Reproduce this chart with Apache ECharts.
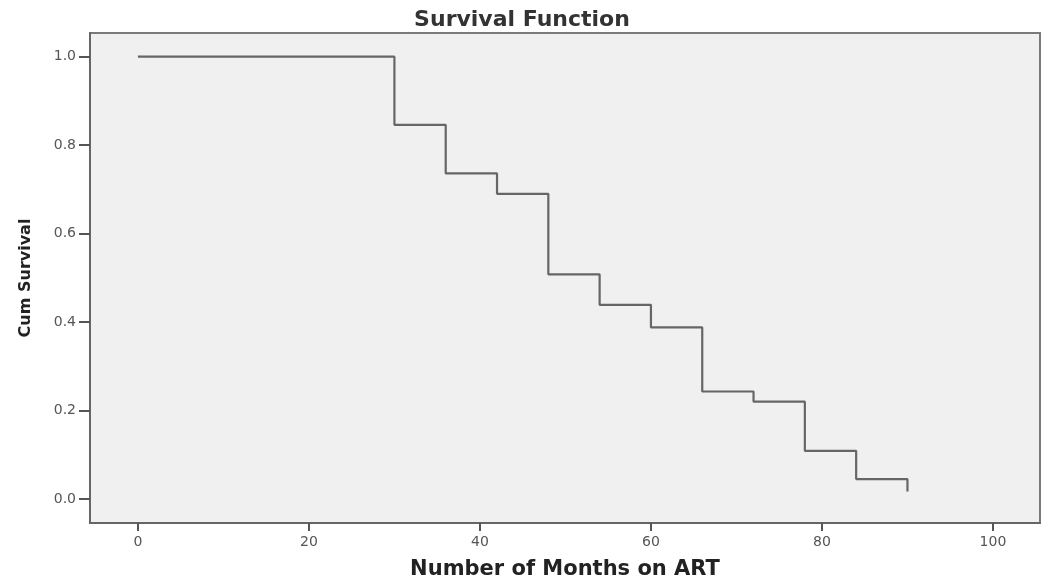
<!DOCTYPE html>
<html>
<head>
<meta charset="utf-8">
<style>html,body{margin:0;padding:0;background:#fff;}#c{width:1044px;height:588px;}</style>
<script src="https://cdn.jsdelivr.net/npm/echarts@6/dist/echarts.min.js"></script>
</head>
<body>
<div id="c"></div>
<script>
var months = [0, 30, 36, 42, 48, 54, 60, 66, 72, 78, 84, 90];
var cumSurvival = [1.0, 0.846, 0.736, 0.690, 0.508, 0.439, 0.388, 0.243, 0.220, 0.109, 0.045, 0.017];
var xTicks = [0, 20, 40, 60, 80, 100];
var yTicks = [0.0, 0.2, 0.4, 0.6, 0.8, 1.0];

var chart = echarts.init(document.getElementById('c'));
var pts = months.map(function (m, i) { return [m, cumSurvival[i]]; });
chart.setOption({
  animation: false,
  backgroundColor: '#ffffff',
  title: {
    text: 'Survival Function',
    left: 'center',
    top: 4,
    textStyle: { fontFamily: 'DejaVu Sans', fontWeight: 'bold', fontSize: 22, color: '#333' }
  },
  grid: {
    left: 90, right: 4, top: 33, bottom: 65,
    show: true, backgroundColor: '#f0f0f0', borderColor: '#7a7a7a', borderWidth: 2
  },
  xAxis: {
    type: 'value', min: -5.6, max: 105.5,
    name: 'Number of Months on ART', nameLocation: 'middle', nameGap: 36,
    nameTextStyle: { fontFamily: 'DejaVu Sans', fontWeight: 'bold', fontSize: 21, color: '#222' },
    axisLine: { show: true, onZero: false, lineStyle: { color: '#666', width: 2 } },
    axisTick: { show: true, customValues: xTicks, length: 8, lineStyle: { color: '#555', width: 2 } },
    axisLabel: { customValues: xTicks, margin: 12, fontFamily: 'DejaVu Sans', fontSize: 14, color: '#555' },
    splitLine: { show: false }
  },
  yAxis: {
    type: 'value', min: -0.0543, max: 1.0536,
    name: 'Cum Survival', nameLocation: 'middle', nameGap: 56, nameRotate: 90,
    nameTextStyle: { fontFamily: 'DejaVu Sans', fontWeight: 'bold', fontSize: 16, color: '#222' },
    axisLine: { show: true, onZero: false, lineStyle: { color: '#666', width: 2 } },
    axisTick: { show: true, customValues: yTicks, length: 11, lineStyle: { color: '#555', width: 2 } },
    axisLabel: { customValues: yTicks, margin: 14, fontFamily: 'DejaVu Sans', fontSize: 14, color: '#555',
      formatter: function (v) { return v.toFixed(1); } },
    splitLine: { show: false }
  },
  series: [{
    type: 'line', step: 'end', data: pts, showSymbol: false, symbol: 'none',
    lineStyle: { color: '#666666', width: 2.2 }
  }]
});
</script>
</body>
</html>
